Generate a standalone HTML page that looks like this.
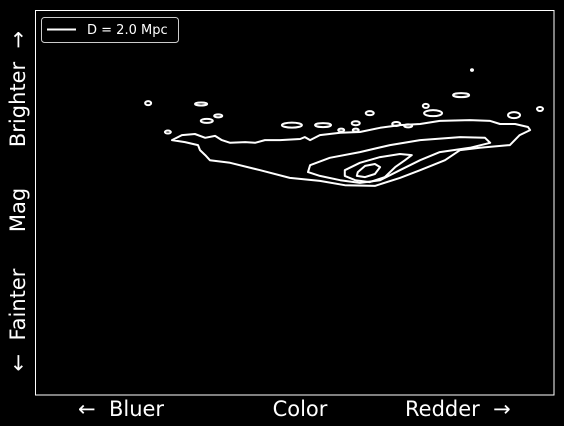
<!DOCTYPE html>
<html><head><meta charset="utf-8"><style>
html,body{margin:0;padding:0;background:#000;}
svg{display:block;font-family:"DejaVu Sans","Liberation Sans",sans-serif;}
text{white-space:pre;}
</style></head><body>
<svg id="chart" width="564" height="426" viewBox="0 0 564 426">
<rect x="0" y="0" width="564" height="426" fill="#000"/>
<rect x="35.5" y="10.5" width="518.5" height="384.5" fill="none" stroke="#fff" stroke-width="1"/>
<g id="marks"></g>
<g>
<rect x="41.5" y="17.5" width="137" height="25" rx="3" fill="#000" stroke="#ccc" stroke-width="1"/>
<line x1="47" y1="29.5" x2="76" y2="29.5" stroke="#fff" stroke-width="2"/>
<text x="87" y="34" fill="#fff" font-size="13">D = 2.0 Mpc</text>
</g>
<g fill="#fff" font-size="21">
<text xml:space="preserve" transform="translate(25,320) rotate(-90)" text-anchor="middle">←  Fainter</text>
<text transform="translate(25,210) rotate(-90)" text-anchor="middle">Mag</text>
<text xml:space="preserve" transform="translate(25,89) rotate(-90)" text-anchor="middle">Brighter  →</text>
</g>
<text x="78" y="416" fill="#fff" font-size="21" xml:space="preserve">←  Bluer</text>
<text x="300" y="416" text-anchor="middle" fill="#fff" font-size="21">Color</text>
<text x="405" y="416" fill="#fff" font-size="21" xml:space="preserve">Redder  →</text>
</svg>
<script>
const outerC=[26.4,28.3,30.8,32.8,34.7,36.0,37.6,40.5,42.4,44.3,47.2,51.1,52.0,53.0,54.9,58.8,62.6,66.5,70.3,74.2,78.0,83.8,87.7,89.6,92.5,95.0,95.4,93.4,91.5,85.7,81.9,79.0,74.2,70.3,65.5,59.7,54.9,49.1,43.4,37.6,33.7,32.8,31.8,31.4,28.9];
const outerM=[66.2,67.5,67.8,66.8,67.3,66.2,65.5,65.7,65.5,66.2,66.2,66.5,67.0,66.2,67.5,68.1,68.3,69.4,70.1,70.4,71.2,71.4,71.2,70.4,70.4,69.6,68.8,67.5,64.9,64.2,63.6,61.0,58.4,56.4,54.3,54.5,55.6,56.4,58.4,60.3,61.0,62.3,63.6,64.9,65.7];
const midC=[53.0,56.8,62.6,68.4,74.2,81.9,86.7,87.7,83.8,78.0,74.2,70.3,66.5,62.6,58.8,54.9,52.6];
const midM=[59.7,61.6,63.1,64.9,66.2,67.0,66.8,65.5,64.2,63.1,61.0,58.4,55.8,55.1,55.8,56.9,57.9];
const innerC=[59.7,62.6,66.5,70.3,72.6,71.3,69.4,67.4,64.5,61.7,59.7];
const innerM=[58.4,60.3,61.8,62.6,62.3,61.0,59.2,56.6,55.3,55.8,56.9];
const coreC=[62.2,63.6,65.5,66.5,65.5,63.6,62.0];
const coreM=[57.9,59.5,60.0,59.2,57.4,56.6,56.9];
const islandC=[21.8,32.0,33.1,35.3,25.6,82.1,92.3,97.3,75.3,76.7,64.5,61.8,61.8,59.0,55.5,49.5,69.6,71.9,84.2];
const islandM=[75.8,75.6,71.2,72.5,68.3,77.9,72.7,74.3,75.1,73.2,73.2,70.6,68.8,68.8,70.1,70.1,70.4,69.9,84.4];
const islandRX=[3,6,6,4,3,8,6,3,3,9,4,4,3,3,8,10,4,4,1];
const islandRY=[2,1.5,2,1.5,1.5,2,3,2,2,3,2,2,1.5,1.5,2,2.5,2,1.5,0.8];
const X=c=>35+c*5.19, Y=m=>395-m*3.85;
const NS='http://www.w3.org/2000/svg', g=document.getElementById('marks');
function poly(cs,ms,name){
  const p=document.createElementNS(NS,'path');
  let d=cs.map((c,i)=>(i?'L':'M')+X(c).toFixed(1)+','+Y(ms[i]).toFixed(1)).join('')+'Z';
  p.setAttribute('d',d);p.setAttribute('fill','none');p.setAttribute('stroke','#fff');p.setAttribute('stroke-width','2');p.setAttribute('stroke-linejoin','round');
  
  
  g.appendChild(p);
}
poly(outerC,outerM,'contour-outer');
poly(midC,midM,'contour-middle');
poly(innerC,innerM,'contour-inner');
poly(coreC,coreM,'contour-core');
islandC.forEach((c,i)=>{
  const e=document.createElementNS(NS,'ellipse');
  e.setAttribute('cx',X(c));e.setAttribute('cy',Y(islandM[i]));e.setAttribute('rx',islandRX[i]);e.setAttribute('ry',islandRY[i]);
  e.setAttribute('fill','none');e.setAttribute('stroke','#fff');e.setAttribute('stroke-width','2');
  
  
  g.appendChild(e);
});
</script>
</body></html>
